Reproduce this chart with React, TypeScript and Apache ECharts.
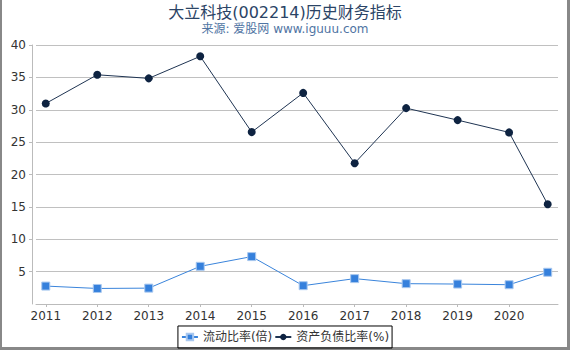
import React, { useEffect, useRef } from "react";
import * as echarts from "echarts";

const titleText = "大立科技(002214)历史财务指标";
const subText = "来源: 爱股网 www.iguuu.com";
const xPositions = [2011, 2012, 2013, 2014, 2015, 2016, 2017, 2018, 2019, 2020, 2020.75];
const yearTicks = [2011, 2012, 2013, 2014, 2015, 2016, 2017, 2018, 2019, 2020];
const currentRatio = [2.77, 2.4, 2.45, 5.82, 7.32, 2.83, 3.92, 3.14, 3.08, 2.98, 4.9];
const debtRatio = [30.97, 35.4, 34.85, 38.25, 26.55, 32.6, 21.75, 30.25, 28.4, 26.5, 15.4];
const seriesNames = ["流动比率(倍)", "资产负债比率(%)"];

export default function App() {
  const ref = useRef<HTMLDivElement>(null);
  useEffect(() => {
    if (!ref.current) return;
    const chart = echarts.init(ref.current, undefined, { renderer: "svg" });
    const font = "'DejaVu Sans', 'Noto Sans CJK SC', sans-serif";
    chart.setOption({
      animation: false,
      textStyle: { fontFamily: font },
      title: {
        text: titleText,
        subtext: subText,
        left: "center",
        top: -1,
        itemGap: 3,
        textStyle: { fontSize: 16, fontWeight: "normal", color: "#2b4466", fontFamily: font },
        subtextStyle: { fontSize: 12, color: "#4f74a3", fontFamily: font },
      },
      legend: {
        bottom: 2,
        left: "center",
        borderColor: "#000",
        borderWidth: 1,
        borderRadius: 0,
        padding: [5, 3, 5, 3],
        itemGap: 2,
        itemWidth: 16,
        itemHeight: 8,
        textStyle: { fontSize: 12, color: "#333", fontFamily: font },
        data: seriesNames,
      },
      grid: { left: 36, right: 12, top: 45, bottom: 46, containLabel: false },
      xAxis: {
        type: "value",
        min: 2010.81,
        max: 2020.95,
        splitLine: { show: false },
        axisLine: { show: true, lineStyle: { color: "#bbb" } },
        axisTick: { show: true, length: 3, lineStyle: { color: "#bbb" }, customValues: yearTicks },
        axisLabel: {
          color: "#333",
          fontSize: 12,
          margin: 6,
          customValues: yearTicks,
          formatter: (v: number) => String(Math.round(v)),
        },
      },
      yAxis: {
        type: "value",
        min: 0,
        max: 40,
        interval: 5,
        offset: 4,
        axisLine: { show: true, lineStyle: { color: "#bbb" } },
        axisTick: { show: true, length: 3, lineStyle: { color: "#bbb" } },
        axisLabel: { color: "#333", fontSize: 12, margin: 6, showMinLabel: false },
        splitLine: { show: true, lineStyle: { color: "#c0c0c0" } },
      },
      series: [
        {
          name: seriesNames[0],
          type: "line",
          data: xPositions.map((x, i) => [x, currentRatio[i]]),
          symbol: "rect",
          symbolSize: 8,
          itemStyle: { color: "#3580dc", borderColor: "#a9c8ef", borderWidth: 1 },
          lineStyle: { color: "#3a84db", width: 1 },
        },
        {
          name: seriesNames[1],
          type: "line",
          data: xPositions.map((x, i) => [x, debtRatio[i]]),
          symbol: "circle",
          symbolSize: 8,
          itemStyle: { color: "#0e2341" },
          lineStyle: { color: "#1f3452", width: 1 },
        },
      ],
    });
    return () => chart.dispose();
  }, []);
  return (
    <div
      style={{
        position: "fixed",
        left: 0,
        top: 0,
        width: 570,
        height: 350,
        boxSizing: "border-box",
        borderLeft: "2px solid #888",
        borderRight: "3px solid #888",
        borderBottom: "3px solid #888",
        background: "#fff",
      }}
    >
      <div ref={ref} style={{ position: "absolute", left: -2, top: 0, width: 570, height: 350 }} />
    </div>
  );
}
